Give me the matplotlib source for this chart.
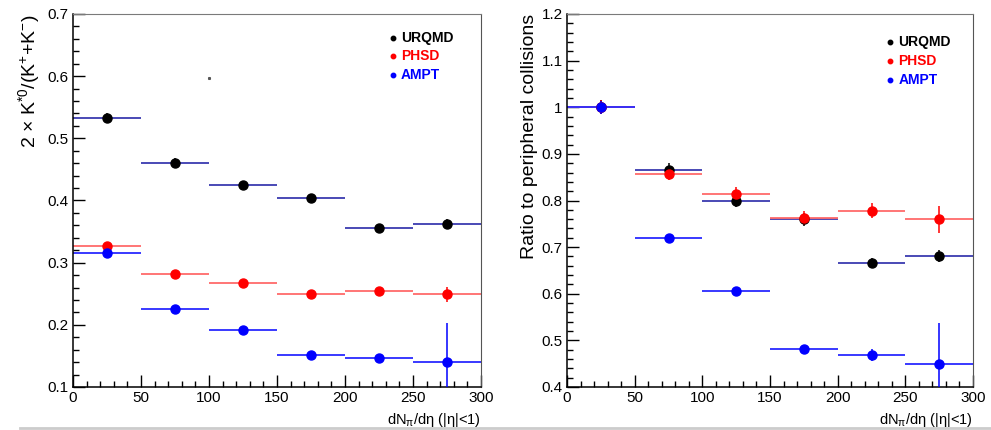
import numpy as np
import matplotlib
matplotlib.use('Agg')
import matplotlib.pyplot as plt
from matplotlib.lines import Line2D
from matplotlib.ticker import MultipleLocator

plt.rcParams['font.family'] = ['Liberation Sans', 'DejaVu Sans']
plt.rcParams['mathtext.fontset'] = 'custom'
plt.rcParams['mathtext.rm'] = 'Liberation Sans'
plt.rcParams['mathtext.it'] = 'Liberation Sans'
plt.rcParams['mathtext.default'] = 'regular'

# bin centres in dN/deta, each bin 50 wide
x_centres = [25, 75, 125, 175, 225, 275]
x_half = 25

models = ['URQMD', 'PHSD', 'AMPT']

# K*0/K ratio (left panel)
ratio_urqmd = [0.533, 0.461, 0.425, 0.404, 0.355, 0.363]
ratio_urqmd_err = [0.007, 0.007, 0.007, 0.007, 0.006, 0.008]
ratio_phsd = [0.327, 0.281, 0.267, 0.249, 0.254, 0.249]
ratio_phsd_err = [0.005, 0.004, 0.004, 0.005, 0.005, 0.012]
ratio_ampt = [0.315, 0.226, 0.191, 0.151, 0.147, 0.141]
ratio_ampt_err = [0.004, 0.004, 0.004, 0.004, 0.006, 0.062]

# ratio to peripheral (right panel)
rel_urqmd = [1.0, 0.866, 0.799, 0.760, 0.666, 0.681]
rel_urqmd_err = [0.015, 0.015, 0.014, 0.014, 0.010, 0.012]
rel_phsd = [1.0, 0.857, 0.815, 0.762, 0.778, 0.760]
rel_phsd_err = [0.015, 0.013, 0.013, 0.015, 0.016, 0.029]
rel_ampt = [1.0, 0.719, 0.606, 0.481, 0.469, 0.449]
rel_ampt_err = [0.014, 0.008, 0.008, 0.008, 0.013, 0.088]

marker_col = {'URQMD': 'black', 'PHSD': '#ff0000', 'AMPT': '#0000ff'}
hbar_col = {'URQMD': '#3a3ab0', 'PHSD': '#ff6a6a', 'AMPT': '#2a2aff'}

fig = plt.figure(figsize=(9.91, 4.30), dpi=100)


def style_axes(ax, ymin, ymax):
    ax.set_xlim(0, 300)
    ax.set_ylim(ymin, ymax)
    ax.xaxis.set_major_locator(MultipleLocator(50))
    ax.xaxis.set_minor_locator(MultipleLocator(10))
    ax.yaxis.set_major_locator(MultipleLocator(0.1))
    ax.yaxis.set_minor_locator(MultipleLocator(0.02))
    ax.tick_params(which='both', direction='in', top=False, right=False,
                   labelsize=11, width=1, color='black')
    ax.tick_params(which='major', length=8.6, pad=3)
    ax.tick_params(which='minor', length=4.3)
    ax.yaxis.set_major_formatter(plt.FuncFormatter(lambda v, p: ('%g' % round(v, 2))))
    for s in ['left', 'bottom']:
        ax.spines[s].set_color('black')
        ax.spines[s].set_linewidth(1.1)
    ax.spines['top'].set_color('#7a7a7a')
    ax.spines['right'].set_color('#555555')
    ax.set_xlabel('dN$_{π}$/dη (|η|<1)', loc='right', fontsize=10.5, labelpad=4)


def draw_series(ax, vals, errs):
    for m in models:
        ax.errorbar(x_centres, vals[m], xerr=x_half, fmt='none',
                    ecolor=hbar_col[m], elinewidth=1.3, capsize=0, zorder=2)
    for m in models:
        ax.errorbar(x_centres, vals[m], yerr=errs[m], fmt='o', color=marker_col[m],
                    ms=6.5, elinewidth=1.1, capsize=0, zorder=3)


def draw_legend(ax, xpos, ytop, dy):
    for i, m in enumerate(models):
        ax.plot([xpos], [ytop - i * dy], 'o', color=marker_col[m], ms=3.2, zorder=4)
        ax.text(xpos + 6, ytop - i * dy, m, color=marker_col[m], fontsize=10,
                fontweight='bold', va='center', ha='left')


ax1 = fig.add_axes([73 / 991, 43 / 430, 408 / 991, 373 / 430])
style_axes(ax1, 0.1, 0.7)
draw_series(ax1,
            {'URQMD': ratio_urqmd, 'PHSD': ratio_phsd, 'AMPT': ratio_ampt},
            {'URQMD': ratio_urqmd_err, 'PHSD': ratio_phsd_err, 'AMPT': ratio_ampt_err})
ax1.plot([100], [0.597], 's', color='#555555', ms=1.2)
draw_legend(ax1, 235, 0.662, 0.0298)
ax1.set_ylabel(r'2 $\times$ K$^{*0}$/(K$^{+}$+K$^{-}$)', loc='top', fontsize=14, labelpad=4)

ax2 = fig.add_axes([567 / 991, 43 / 430, 406 / 991, 373 / 430])
style_axes(ax2, 0.4, 1.2)
draw_series(ax2,
            {'URQMD': rel_urqmd, 'PHSD': rel_phsd, 'AMPT': rel_ampt},
            {'URQMD': rel_urqmd_err, 'PHSD': rel_phsd_err, 'AMPT': rel_ampt_err})
draw_legend(ax2, 239, 1.141, 0.041)
ax2.set_ylabel('Ratio to peripheral collisions', loc='top', fontsize=14, labelpad=3)

# light grey border at the bottom of the screenshot
fig.add_artist(Line2D([0.02, 1], [0.004, 0.004], color='#cccccc', lw=2, transform=fig.transFigure))

fig.savefig('out.png', dpi=100)
